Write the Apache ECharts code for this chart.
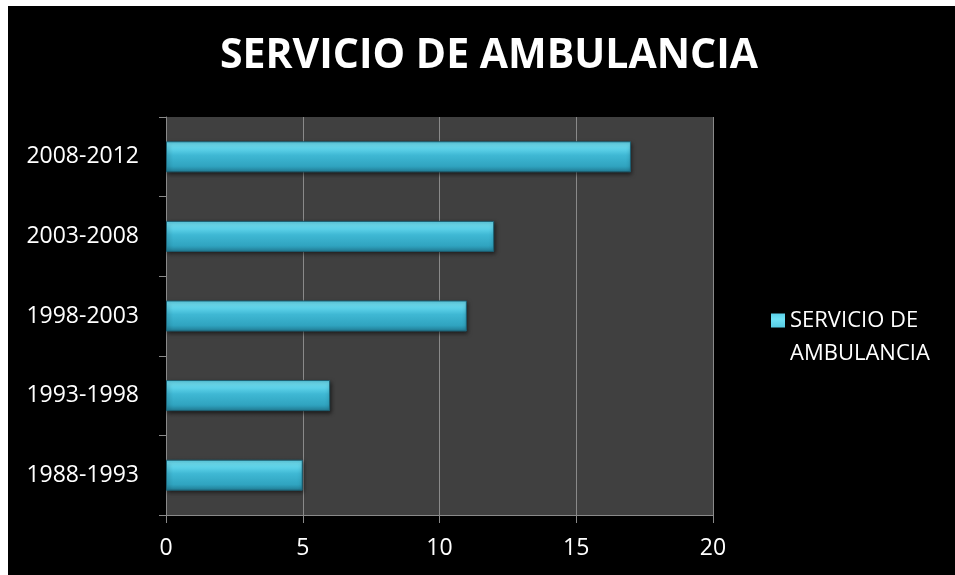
<!DOCTYPE html>
<html>
<head>
<meta charset="utf-8">
<script src="https://cdn.jsdelivr.net/npm/echarts@6/dist/echarts.min.js"></script>
<style>
  html, body { margin: 0; padding: 0; background: #ffffff; }
  #chart { position: absolute; left: 8px; top: 6px; width: 947px; height: 569px; }
</style>
</head>
<body>
<div id="chart"></div>
<script>
// values
const periods = ['1988-1993', '1993-1998', '1998-2003', '2003-2008', '2008-2012'];
const servicio = [5, 6, 11, 12, 17];
const seriesName = 'SERVICIO DE AMBULANCIA';

const FONT = '"Open Sans", "DejaVu Sans", sans-serif';

const chart = echarts.init(document.getElementById('chart'));

// legend marker sits next to the first of the two text lines:
// a 14x14 square at the top of a 14x47 icon box (thin sliver at the bottom keeps the box tall)
const legendIcon = 'path://M0,0h14v14h-14z M0,46.95h0.05v0.05h-0.05z';

chart.setOption({
  backgroundColor: '#000000',
  animation: false,
  title: {
    text: seriesName,
    left: 212,
    top: 25,
    padding: [5, 5, 5, 0],
    textStyle: { color: '#ffffff', fontFamily: FONT, fontWeight: 'bold', fontSize: 41 }
  },
  legend: {
    left: 758,
    top: 293,
    icon: legendIcon,
    itemWidth: 14,
    itemHeight: 47,
    itemGap: 0,
    itemStyle: { borderWidth: 0 },
    formatter: () => 'SERVICIO DE\nAMBULANCIA',
    textStyle: { color: '#ffffff', fontFamily: FONT, fontSize: 22, lineHeight: 33 }
  },
  grid: {
    left: 158,
    top: 111,
    width: 547,
    height: 398,
    show: true,
    backgroundColor: '#404040',
    borderWidth: 0
  },
  xAxis: {
    type: 'value',
    min: 0,
    max: 20,
    interval: 5,
    axisLine: { show: true, lineStyle: { color: '#8a8a8a', width: 1 } },
    axisTick: { show: true, length: 8, lineStyle: { color: '#8a8a8a' } },
    splitLine: { show: true, lineStyle: { color: '#8a8a8a', width: 1 } },
    axisLabel: { color: '#ffffff', fontFamily: FONT, fontSize: 23, margin: 22 }
  },
  yAxis: {
    type: 'category',
    data: periods,
    axisLine: { show: true, lineStyle: { color: '#8a8a8a', width: 1 } },
    axisTick: { show: true, length: 7, lineStyle: { color: '#8a8a8a' } },
    axisLabel: { color: '#ffffff', fontFamily: FONT, fontSize: 23, margin: 27 }
  },
  series: [{
    name: seriesName,
    type: 'bar',
    data: servicio,
    barWidth: '39%',
    itemStyle: {
      color: new echarts.graphic.LinearGradient(0, 0, 0, 1, [
        { offset: 0, color: '#5ad0e8' },
        { offset: 0.12, color: '#6fe2f6' },
        { offset: 0.45, color: '#3fb8d4' },
        { offset: 0.8, color: '#30a4c0' },
        { offset: 1, color: '#217c95' }
      ]),
      borderColor: '#1d5f72',
      borderWidth: 1,
      shadowColor: 'rgba(0,0,0,0.55)',
      shadowBlur: 4,
      shadowOffsetY: 2,
      shadowOffsetX: 1
    }
  }]
});
</script>
</body>
</html>
